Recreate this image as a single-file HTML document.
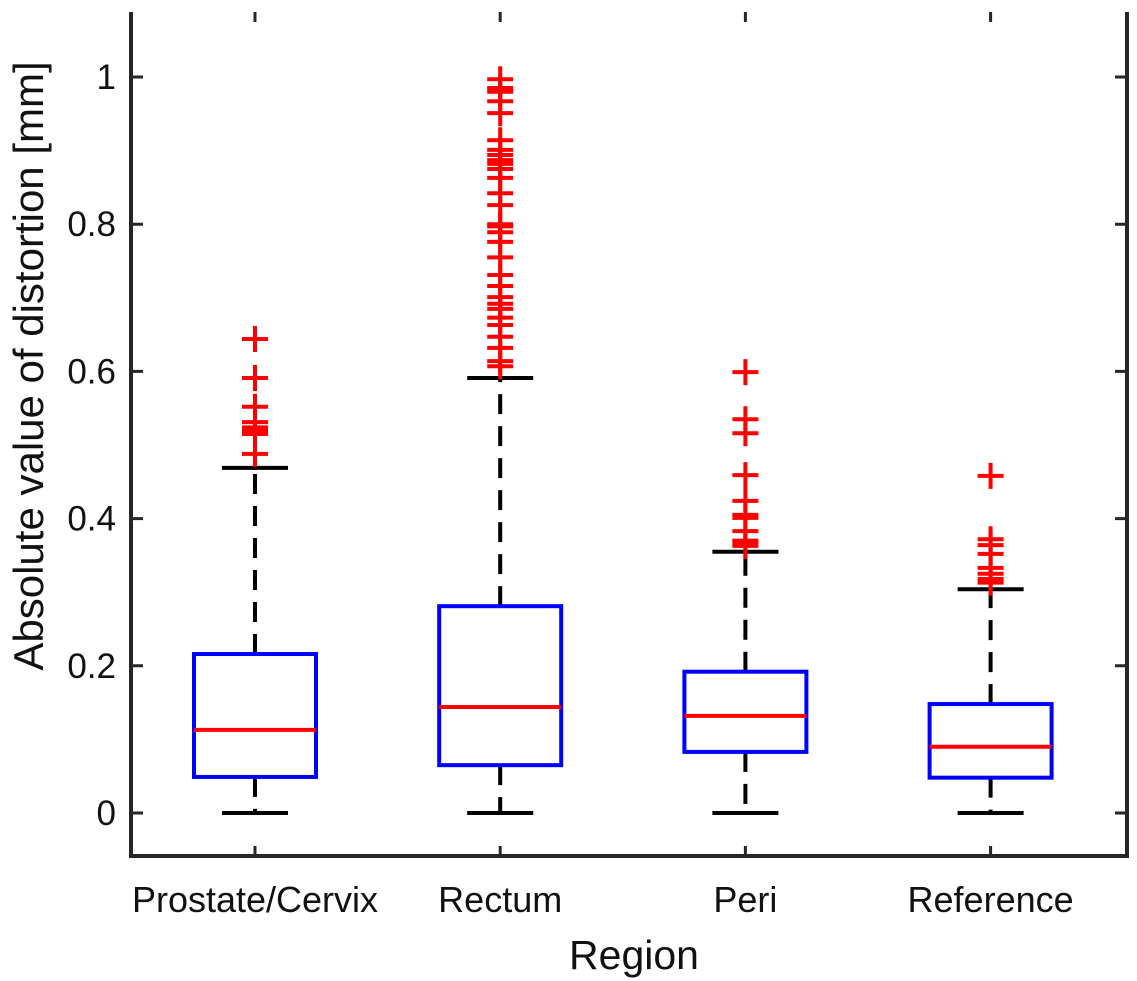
<!DOCTYPE html>
<html><head><meta charset="utf-8"><style>
html,body{margin:0;padding:0;background:#fff;}
svg{display:block;font-family:"Liberation Sans",Arial,sans-serif;}
</style></head><body>
<svg id="chart" width="1137" height="981" viewBox="0 0 1137 981" xmlns="http://www.w3.org/2000/svg">
<g id="plot"></g>
<g id="axes"></g>
<text x="634" y="969" font-size="41" text-anchor="middle" fill="#111">Region</text>
<text transform="translate(43,366) rotate(-90)" font-size="42" text-anchor="middle" fill="#111">Absolute value of distortion [mm]</text>
</svg>
<script>
const categories = ["Prostate/Cervix","Rectum","Peri","Reference"];
const q1 = [0.049,0.065,0.083,0.048];
const medians = [0.113,0.144,0.132,0.090];
const q3 = [0.216,0.281,0.192,0.148];
const whiskerLow = [0,0,0,0];
const whiskerHigh = [0.469,0.591,0.355,0.304];
const outliersProstate = [0.644,0.591,0.552,0.531,0.524,0.519,0.515,0.488];
const outliersRectum = [0.997,0.985,0.980,0.967,0.951,0.914,0.901,0.894,0.887,0.882,0.875,0.863,0.842,0.826,0.800,0.797,0.789,0.776,0.755,0.731,0.716,0.701,0.692,0.685,0.673,0.663,0.647,0.632,0.614,0.607];
const outliersPeri = [0.599,0.535,0.516,0.459,0.424,0.405,0.401,0.383,0.370,0.367,0.363];
const outliersReference = [0.458,0.372,0.364,0.352,0.333,0.325,0.318,0.313];
const yTicks = [0,0.2,0.4,0.6,0.8,1];
const yTickLabels = ["0","0.2","0.4","0.6","0.8","1"];

const NS="http://www.w3.org/2000/svg";
const L=131,R=1127,T=12,B=856;
const y=v=>813-v*736;
const x=i=>255+i*245.2;
function mk(tag,attrs,parent){const e=document.createElementNS(NS,tag);for(const k in attrs)e.setAttribute(k,attrs[k]);parent.appendChild(e);return e;}
const plot=document.getElementById('plot'), axes=document.getElementById('axes');
const outs=[outliersProstate,outliersRectum,outliersPeri,outliersReference];
const hw=61, cw=33;
categories.forEach((c,i)=>{
  const cx=x(i);
  const g=mk('g',{},plot);
  
  
  let w=mk('line',{x1:cx,x2:cx,y1:y(q3[i]),y2:y(whiskerHigh[i]),stroke:'#000','stroke-width':4,'stroke-dasharray':'20 12'},g);
  
  
  w=mk('line',{x1:cx,x2:cx,y1:y(q1[i]),y2:y(whiskerLow[i]),stroke:'#000','stroke-width':4,'stroke-dasharray':'20 12'},g);
  
  
  let cap=mk('line',{x1:cx-cw,x2:cx+cw,y1:y(whiskerHigh[i]),y2:y(whiskerHigh[i]),stroke:'#000','stroke-width':4},g);
  
  
  cap=mk('line',{x1:cx-cw,x2:cx+cw,y1:y(whiskerLow[i]),y2:y(whiskerLow[i]),stroke:'#000','stroke-width':4},g);
  
  
  const box=mk('rect',{x:cx-hw,y:y(q3[i]),width:2*hw,height:y(q1[i])-y(q3[i]),fill:'#fff',stroke:'#0000ff','stroke-width':4},g);
  
  
  const med=mk('line',{x1:cx-hw,x2:cx+hw,y1:y(medians[i]),y2:y(medians[i]),stroke:'#ff0000','stroke-width':4},g);
  
  
  outs[i].forEach(v=>{
    const p=mk('path',{d:`M${cx-13},${y(v)}h26M${cx},${y(v)-13}v26`,stroke:'#ff0000','stroke-width':4,fill:'none'},g);
    
    
  });
  const t=mk('text',{x:cx,y:912,'font-size':36,'text-anchor':'middle',fill:'#111'},axes);
  t.textContent=c;
  
  
  const tk=mk('path',{d:`M${cx},${B}v-10M${cx},${T}v10`,stroke:'#262626','stroke-width':3},axes);
  
  
});
yTicks.forEach((v,j)=>{
  const tk=mk('path',{d:`M${L},${y(v)}h12M${R},${y(v)}h-12`,stroke:'#262626','stroke-width':3},axes);
  
  
  const t=mk('text',{x:116,y:y(v)+12,'font-size':35,'text-anchor':'end',fill:'#111'},axes);
  t.textContent=yTickLabels[j];
  
  
});
const frame=mk('path',{d:`M${L},${T}V${B}H${R}V${T}`,stroke:'#262626','stroke-width':4,fill:'none'},axes);


</script>
</body></html>
